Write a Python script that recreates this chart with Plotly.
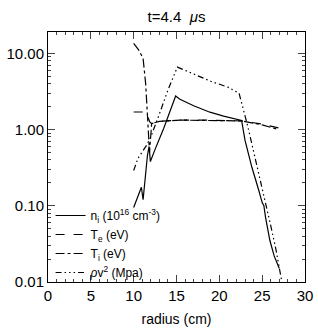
import plotly.graph_objects as go

# radius (cm) and values for each profile
r_ni = [10.0, 10.9, 11.1, 11.3, 11.6, 11.8, 11.95, 12.5, 13.5, 14.9, 15.4, 17.0, 18.9, 20.5, 22.6, 23.0, 23.8, 24.6, 25.0, 25.2, 25.4, 25.9, 26.4, 27.0]
ni   = [0.095, 0.175, 0.12, 0.2, 0.45, 0.6, 0.38, 0.55, 1.03, 2.75, 2.5, 2.05, 1.69, 1.5, 1.32, 0.72, 0.32, 0.16, 0.11, 0.10, 0.07, 0.035, 0.022, 0.015]

r_te = [10.0, 11.4, 11.9, 12.1, 13.0, 15.4, 18.0, 20.0, 22.6, 25.0, 26.9]
te   = [1.7, 1.7, 1.25, 1.2, 1.28, 1.33, 1.33, 1.31, 1.3, 1.18, 1.05]

r_ti = [10.0, 10.6, 11.1, 11.4, 11.6, 11.75, 11.85, 12.1, 13.0, 15.4, 18.0, 20.0, 22.6, 25.0, 26.9]
ti   = [13.5, 11.0, 8.6, 4.0, 1.6, 0.7, 0.5, 1.2, 1.28, 1.33, 1.33, 1.31, 1.3, 1.15, 1.0]

r_pv = [10.0, 10.5, 11.5, 12.0, 13.0, 14.0, 15.1, 17.0, 19.0, 21.0, 22.3, 23.35, 24.0, 24.7, 25.3, 26.0, 26.6, 27.3]
pv   = [0.29, 0.42, 0.62, 0.8, 1.6, 3.3, 6.6, 5.3, 4.3, 3.6, 3.0, 1.07, 0.5, 0.22, 0.12, 0.055, 0.027, 0.01]

names = ["n<sub>i</sub> (10<sup>16</sup> cm<sup>-3</sup>)", "T<sub>e</sub> (eV)",
         "T<sub>i</sub> (eV)", "<i>ρ</i>v<sup>2</sup> (Mpa)"]

y_tickvals = [0.01, 0.1, 1, 10]
y_ticktext = ["0.01", "0.10", "1.00", "10.00"]
y_minorvals = [m * d for d in (0.01, 0.1, 1, 10) for m in range(2, 10)]
x_tickvals = [0, 5, 10, 15, 20, 25, 30]
x_minorvals = list(range(0, 31))

fig = go.Figure()
series = [(r_ni, ni, "solid"), (r_te, te, "dash"), (r_ti, ti, "dashdot"),
          (r_pv, pv, "6px,3px,1.5px,3px,1.5px,3px,1.5px,3px")]
for (x, y, d), n in zip(series, names):
    fig.add_trace(go.Scatter(x=x, y=y, mode="lines", name=n,
                             line=dict(color="black", width=1.2, dash=d)))

font = "Liberation Sans, Arial, sans-serif"
fig.update_layout(
    width=318, height=330,
    margin=dict(l=48, r=13, t=32, b=48),
    paper_bgcolor="white", plot_bgcolor="white",
    font=dict(family=font, size=15, color="black"),
    title=dict(text="t=4.4  <i>μ</i>s", xref="paper", x=0.5, xanchor="center",
               yref="container", y=0.948, yanchor="middle", font=dict(size=15)),
    showlegend=True,
    legend=dict(x=0.01, y=-0.02, xanchor="left", yanchor="bottom", bgcolor="rgba(0,0,0,0)",
                font=dict(size=12), tracegroupgap=0, itemwidth=30),
    xaxis=dict(range=[0, 30], tickmode="array", tickvals=x_tickvals, ticks="inside", ticklen=7,
               showline=True, linecolor="black", linewidth=1, mirror="ticks",
               showgrid=False, zeroline=False, automargin=False,
               minor=dict(ticks="inside", ticklen=3, tickmode="array", tickvals=x_minorvals,
                          showgrid=False),
               title=dict(text="radius (cm)", font=dict(size=14), standoff=11)),
    yaxis=dict(type="log", range=[-2, 1.28], tickmode="array", tickvals=y_tickvals,
               ticktext=y_ticktext, ticks="inside", ticklen=7, showline=True,
               linecolor="black", linewidth=1, mirror="ticks", showgrid=False,
               zeroline=False, automargin=False,
               minor=dict(ticks="inside", ticklen=3, tickmode="array", tickvals=y_minorvals,
                          showgrid=False)),
)
fig.write_html("out.html", config={"displayModeBar": False},
               post_script="document.body.style.margin='0px';")
